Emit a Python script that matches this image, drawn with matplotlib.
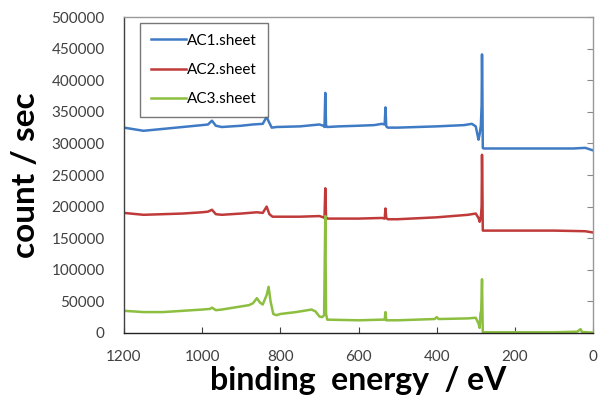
import matplotlib
matplotlib.use("Agg")
import matplotlib.pyplot as plt

plt.rcParams["font.family"] = ["Lato", "DejaVu Sans"]

# survey spectra, binding energy (eV) vs count rate
ac1_energy = [1200, 1190, 1150, 1100, 1050, 1000, 985, 975, 965, 950, 900, 870, 845, 835, 830,
              822, 810, 750, 700, 690, 687, 685, 683, 680, 650, 600, 560, 540, 533, 531, 529,
              525, 500, 450, 400, 330, 310, 300, 293, 290, 287, 285, 284, 283, 282, 280, 250,
              200, 150, 100, 50, 20, 10, 0]
ac1_counts = [325000, 324000, 320000, 323000, 326000, 329000, 330000, 336000, 328000, 326000,
              328000, 330000, 331000, 342000, 335000, 325000, 326000, 327000, 330000, 328000,
              326000, 380000, 327000, 326000, 327000, 328000, 329000, 331000, 330000, 357000,
              327000, 325000, 325000, 326000, 327000, 329000, 331000, 327000, 306000, 315000,
              328000, 360000, 441000, 380000, 293000, 292000, 292000, 292000, 292000, 292000,
              292000, 293000, 291000, 289000]

ac2_energy = [1200, 1150, 1100, 1050, 1000, 985, 975, 965, 950, 900, 860, 845, 835, 828, 820,
              750, 700, 690, 687, 685, 683, 680, 600, 540, 533, 531, 529, 525, 500, 400, 320,
              300, 293, 290, 287, 285, 284, 283, 282, 200, 100, 20, 0]
ac2_counts = [190000, 187000, 188000, 189000, 191000, 192000, 195000, 188000, 187000, 189000,
              191000, 190000, 200000, 188000, 184000, 184000, 185000, 183000, 182000, 229000,
              182000, 181000, 181000, 182000, 181000, 197000, 182000, 180000, 180000, 183000,
              187000, 189000, 182000, 176000, 183000, 200000, 282000, 230000, 162000, 162000,
              162000, 161000, 159000]

ac3_energy = [1200, 1150, 1100, 1050, 1000, 980, 975, 965, 950, 900, 880, 870, 860, 852, 845,
              835, 830, 825, 818, 810, 800, 760, 730, 720, 710, 700, 693, 688, 685, 683, 680,
              600, 540, 533, 531, 529, 500, 405, 400, 395, 320, 300, 293, 290, 288, 286, 284,
              283, 282, 200, 100, 40, 32, 28, 0]
ac3_counts = [35000, 33000, 33000, 35000, 37000, 38000, 40000, 36000, 37000, 42000, 44000, 47000,
              55000, 48000, 45000, 60000, 73000, 50000, 30000, 28000, 30000, 33000, 36000, 37000,
              34000, 26000, 25000, 28000, 185000, 30000, 21000, 20000, 21000, 21000, 33000, 20000,
              20000, 22000, 25000, 22000, 23000, 24000, 15000, 8000, 30000, 35000, 85000, 40000,
              1000, 1000, 1000, 2000, 6000, 1500, 500]

series = [
    ("AC1.sheet", ac1_energy, ac1_counts, "#3F7BC4"),
    ("AC2.sheet", ac2_energy, ac2_counts, "#C03A3A"),
    ("AC3.sheet", ac3_energy, ac3_counts, "#8CBF3F"),
]

x_ticks = [1200, 1000, 800, 600, 400, 200, 0]
y_ticks = list(range(0, 500001, 50000))

fig = plt.figure(figsize=(5.99, 4.07), dpi=100)
ax = fig.add_axes([0.207, 0.182, 0.783, 0.776])

for label, e, c, color in series:
    ax.plot(e, c, color=color, lw=1.8, label=label)

ax.set_xlim(1200, 0)
ax.set_ylim(0, 500000)
ax.set_xticks(x_ticks)
ax.set_yticks(y_ticks)
ax.set_xticklabels([str(v) for v in x_ticks])
ax.set_yticklabels([str(v) for v in y_ticks])

ax.tick_params(axis="x", direction="in", length=4, width=0.8, color="#404040",
               labelsize=11, labelcolor="#404040", pad=12, top=False)
ax.tick_params(axis="y", direction="in", length=4, width=0.8, color="#888888",
               labelsize=11, labelcolor="#404040", pad=14, left=False, right=True)

ax.spines["bottom"].set_color("#222222")
ax.spines["left"].set_color("#404040")
ax.spines["top"].set_color("#999999")
ax.spines["right"].set_color("#999999")
for sp in ax.spines.values():
    sp.set_linewidth(1.0)

ax.set_xlabel("binding  energy  / eV", fontsize=23, fontweight="bold", labelpad=2)
ax.set_ylabel("count / sec", fontsize=24, fontweight="bold", labelpad=8)

leg = ax.legend(loc="upper left", bbox_to_anchor=(0.034, 0.981), borderaxespad=0,
                fontsize=11, frameon=True, fancybox=False, handlelength=2.3,
                handletextpad=0.1, borderpad=0.7, labelspacing=1.0)
leg.get_frame().set_edgecolor("#555555")
leg.get_frame().set_linewidth(1.0)

fig.savefig("out.png", dpi=100)
